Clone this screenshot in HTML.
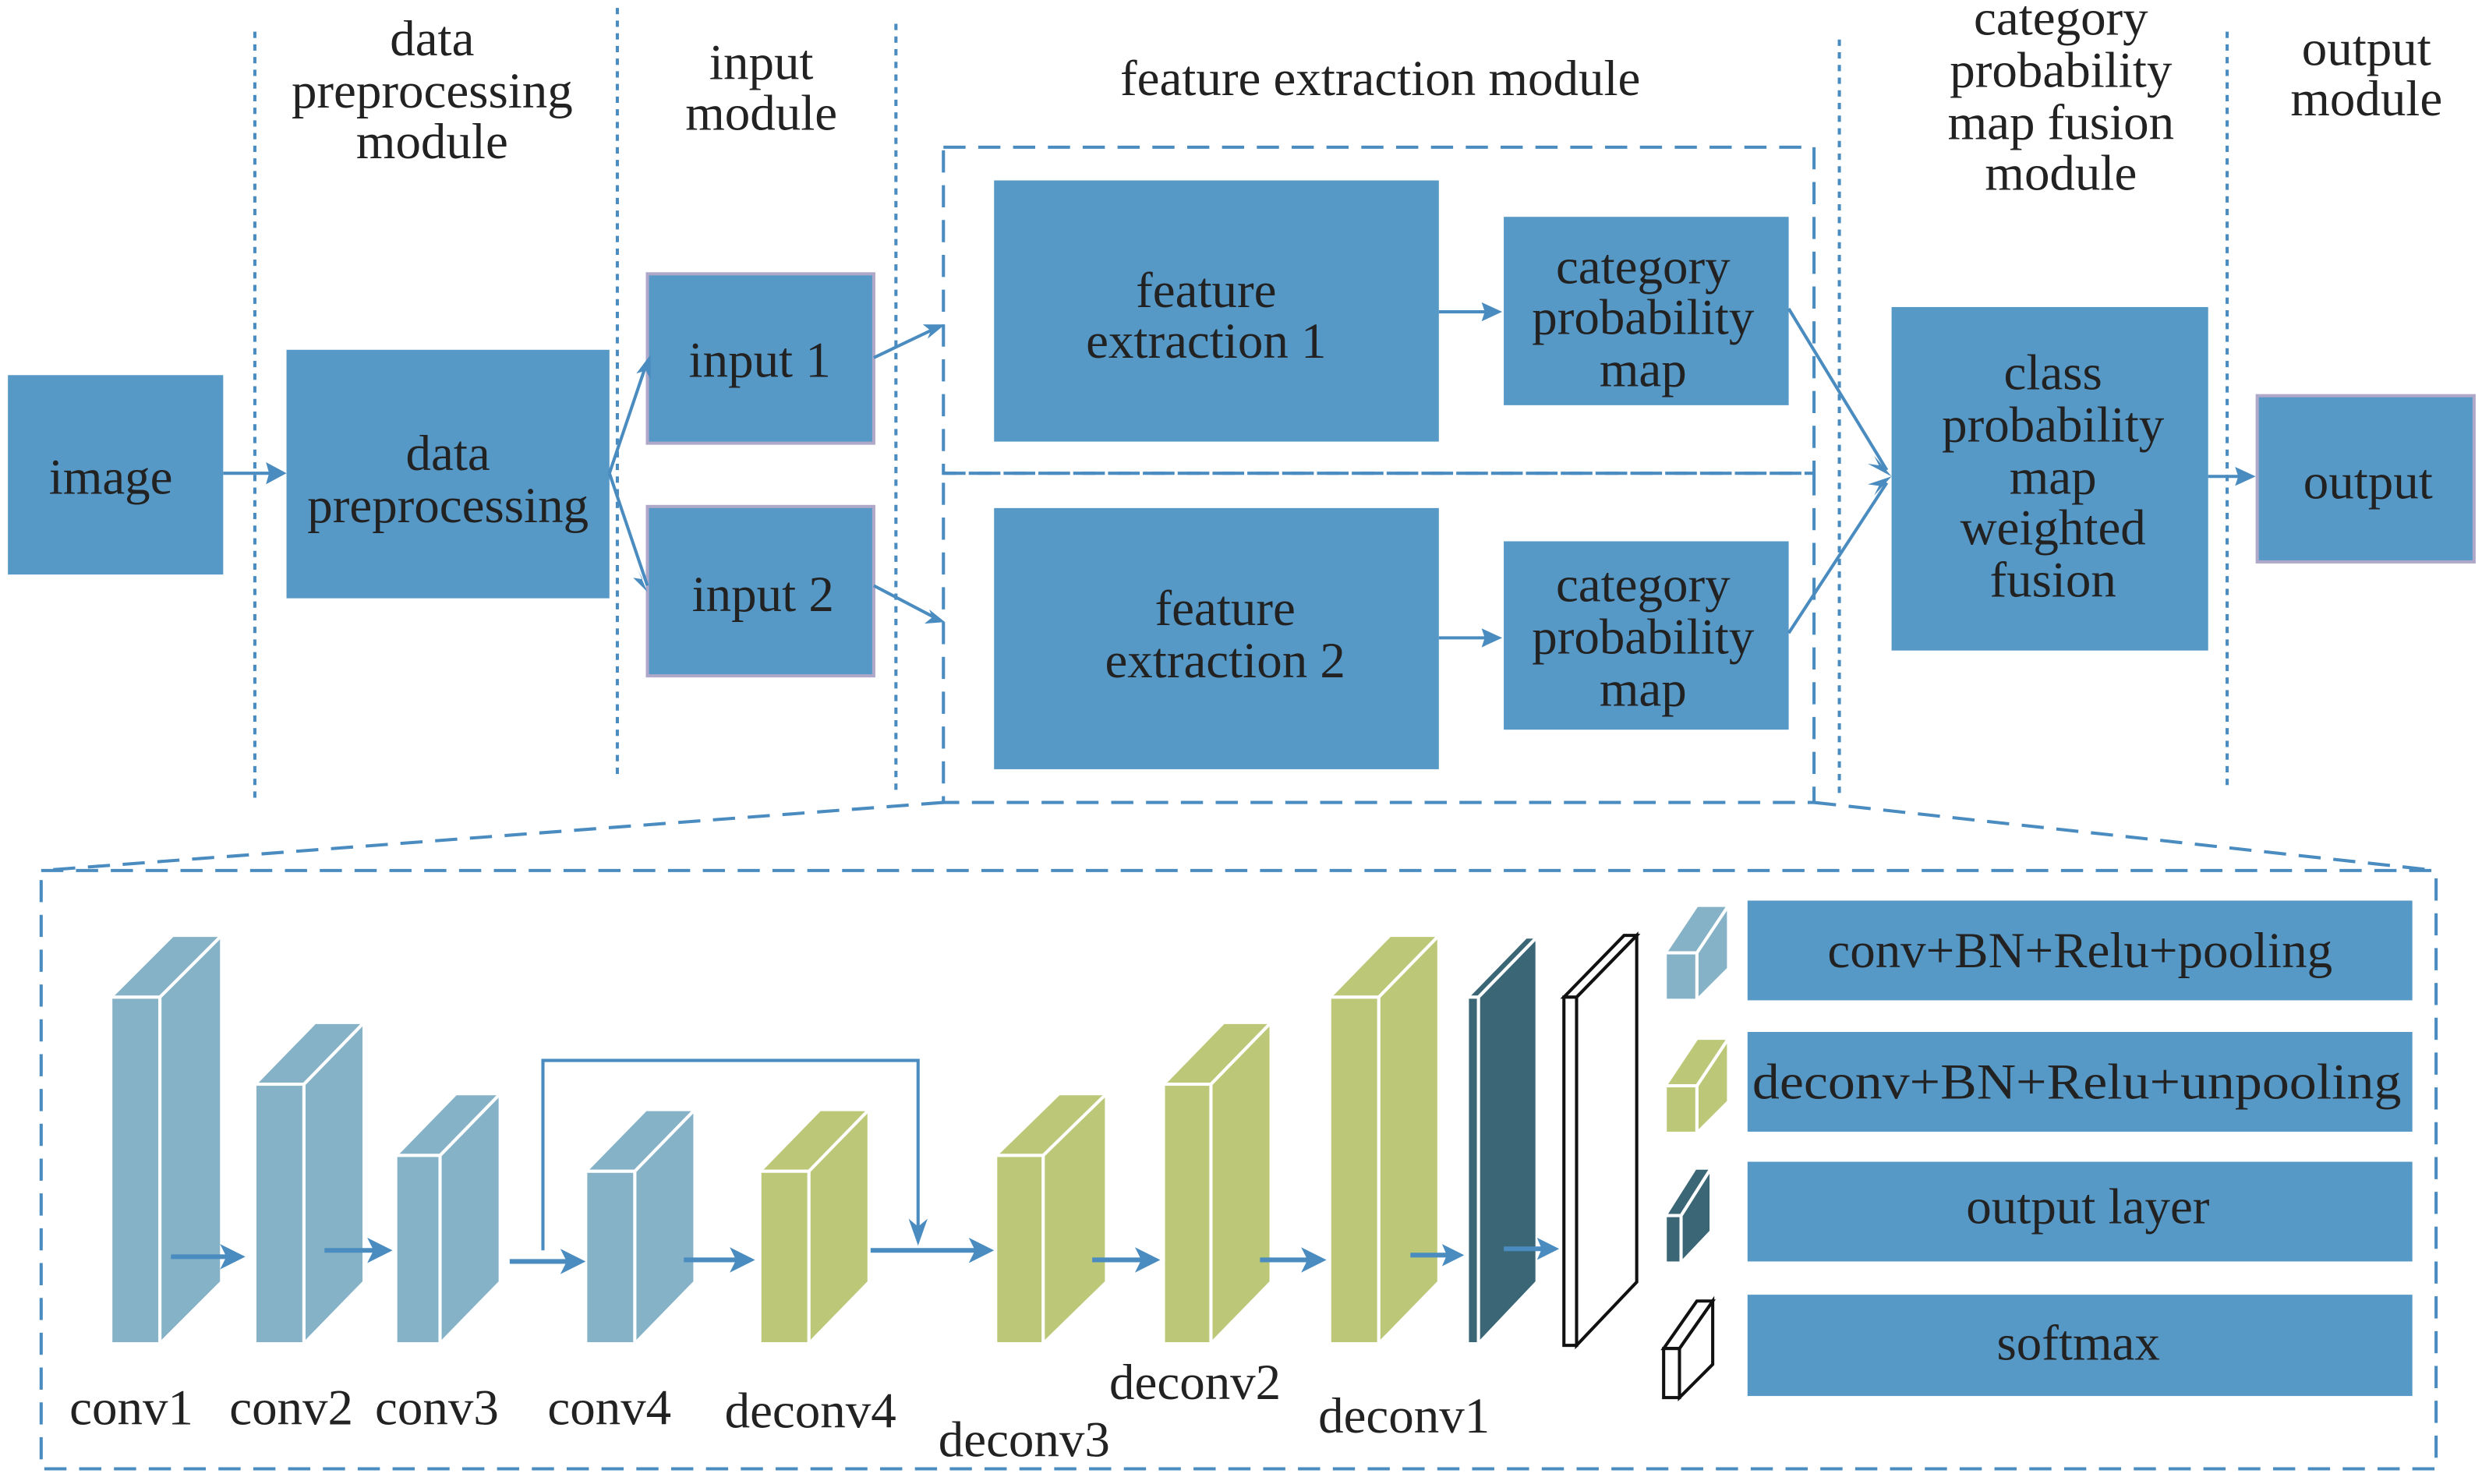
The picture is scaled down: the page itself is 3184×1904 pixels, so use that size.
<!DOCTYPE html>
<html><head><meta charset="utf-8"><style>
html,body{margin:0;padding:0;background:#fff;}
svg{display:block;}
text{font-family:"Liberation Serif",serif;fill:#222;font-size:32px;text-anchor:middle;}
</style></head><body>
<svg width="3184" height="1904" viewBox="0 0 1568 937.6" preserveAspectRatio="none" xmlns="http://www.w3.org/2000/svg">
<rect width="1568" height="937.6" fill="#fff"/>
<g stroke="#4a8cc0" stroke-width="2" stroke-dasharray="4,4">
<line x1="161" y1="20" x2="161" y2="505"/>
<line x1="390" y1="5" x2="390" y2="490"/>
<line x1="566" y1="15" x2="566" y2="500"/>
<line x1="1162" y1="25" x2="1162" y2="505"/>
<line x1="1407" y1="20" x2="1407" y2="500"/>
</g>
<g fill="none" stroke="#4a8cc0" stroke-width="2" stroke-dasharray="14,8">
<rect x="596" y="93" width="550" height="206"/>
<rect x="596" y="299" width="550" height="208"/>
<rect x="26" y="550" width="1513" height="378"/>
<line x1="596" y1="507" x2="26" y2="550"/>
<line x1="1146" y1="507" x2="1539" y2="550"/>
</g>
<text x="273" y="35">data</text>
<text x="273" y="68">preprocessing</text>
<text x="273" y="100">module</text>
<text x="481" y="50">input</text>
<text x="481" y="82">module</text>
<text x="872" y="60">feature extraction module</text>
<text x="1302" y="22">category</text>
<text x="1302" y="55">probability</text>
<text x="1302" y="88">map fusion</text>
<text x="1302" y="120">module</text>
<text x="1495" y="41">output</text>
<text x="1495" y="73">module</text>
<g fill="#5698c6">
<rect x="5" y="237" width="136" height="126"/>
<rect x="181" y="221" width="204" height="157"/>
<rect x="409" y="173" width="143" height="107" stroke="#b0a8c8" stroke-width="2"/>
<rect x="409" y="320" width="143" height="107" stroke="#b0a8c8" stroke-width="2"/>
<rect x="628" y="114" width="281" height="165"/>
<rect x="628" y="321" width="281" height="165"/>
<rect x="950" y="137" width="180" height="119"/>
<rect x="950" y="342" width="180" height="119"/>
<rect x="1195" y="194" width="200" height="217"/>
<rect x="1426" y="250" width="137" height="105" stroke="#b0a8c8" stroke-width="2"/>
<rect x="1104" y="569" width="420" height="63"/>
<rect x="1104" y="652" width="420" height="63"/>
<rect x="1104" y="734" width="420" height="63"/>
<rect x="1104" y="818" width="420" height="64"/>
</g>
<text x="70" y="312">image</text>
<text x="283" y="297">data</text>
<text x="283" y="330">preprocessing</text>
<text x="480" y="238">input 1</text>
<text x="482" y="386">input 2</text>
<text x="762" y="194">feature</text>
<text x="762" y="226">extraction 1</text>
<text x="774" y="395">feature</text>
<text x="774" y="428">extraction 2</text>
<text x="1038" y="179">category</text>
<text x="1038" y="211">probability</text>
<text x="1038" y="244">map</text>
<text x="1038" y="380">category</text>
<text x="1038" y="413">probability</text>
<text x="1038" y="446">map</text>
<text x="1297" y="246">class</text>
<text x="1297" y="279">probability</text>
<text x="1297" y="312">map</text>
<text x="1297" y="344">weighted</text>
<text x="1297" y="377">fusion</text>
<text x="1496" y="315">output</text>
<text x="1314" y="611">conv+BN+Relu+pooling</text>
<text x="1312" y="694" textLength="410" lengthAdjust="spacingAndGlyphs">deconv+BN+Relu+unpooling</text>
<text x="1319" y="773">output layer</text>
<text x="1313" y="859">softmax</text>
<g stroke="#4a8cc0" stroke-width="2" fill="none">
<line x1="141" y1="299" x2="178" y2="299"/>
<path d="M385 299 L409 228"/>
<path d="M385 299 L409 370"/>
<line x1="552" y1="226" x2="594" y2="206"/>
<line x1="552" y1="370" x2="594" y2="392"/>
<line x1="909" y1="197" x2="946" y2="197"/>
<line x1="909" y1="403" x2="946" y2="403"/>
<line x1="1130" y1="195" x2="1192" y2="297"/>
<line x1="1130" y1="400" x2="1192" y2="305"/>
<line x1="1395" y1="301" x2="1422" y2="301"/>
<polyline points="343,790 343,670 580,670 580,784"/>
</g>
<g fill="#4a8cc0">
<polygon points="181,299 168,292 170,299 168,306"/>
<polygon points="411,224 402,236 408,234 411,240"/>
<polygon points="409,374 403,360 406,366 400,365"/>
<polygon points="597,205 583,205 588,209 586,214"/>
<polygon points="597,393 587,385 589,390 584,394"/>
<polygon points="949,197 936,191 938,197 936,203"/>
<polygon points="949,403 936,397 938,403 936,409"/>
<polygon points="1195,301 1184,288 1187,294 1180,293"/>
<polygon points="1195,301 1180,306 1187,307 1184,313"/>
<polygon points="1425,301 1412,295 1414,301 1412,307"/>
<polygon points="580,787 574,770 580,775 586,770"/>
</g>
<g stroke="#fff" stroke-width="2" stroke-linejoin="miter">
<g fill="#85b2c6"><polygon points="101,630 140,591 140,810 101,849"/><polygon points="70,630 101,630 140,591 109,591"/><rect x="70" y="630" width="31" height="219"/></g>
<g fill="#85b2c6"><polygon points="192,685 230,646 230,810 192,849"/><polygon points="161,685 192,685 230,646 199,646"/><rect x="161" y="685" width="31" height="164"/></g>
<g fill="#85b2c6"><polygon points="278,730 316,691 316,810 278,849"/><polygon points="250,730 278,730 316,691 288,691"/><rect x="250" y="730" width="28" height="119"/></g>
<g fill="#85b2c6"><polygon points="401,740 439,701 439,810 401,849"/><polygon points="370,740 401,740 439,701 408,701"/><rect x="370" y="740" width="31" height="109"/></g>
<g fill="#bcc877"><polygon points="511,740 549,701 549,810 511,849"/><polygon points="480,740 511,740 549,701 518,701"/><rect x="480" y="740" width="31" height="109"/></g>
<g fill="#bcc877"><polygon points="659,730 699,691 699,810 659,849"/><polygon points="629,730 659,730 699,691 669,691"/><rect x="629" y="730" width="30" height="119"/></g>
<g fill="#bcc877"><polygon points="765,685 803,646 803,810 765,849"/><polygon points="735,685 765,685 803,646 773,646"/><rect x="735" y="685" width="30" height="164"/></g>
<g fill="#bcc877"><polygon points="871,630 909,591 909,810 871,849"/><polygon points="840,630 871,630 909,591 878,591"/><rect x="840" y="630" width="31" height="219"/></g>
<g fill="#3a6675"><polygon points="934,630 971,592 971,810 934,849"/><polygon points="927,630 934,630 971,592 964,592"/><rect x="927" y="630" width="7" height="219"/></g>
<g fill="#85b2c6"><polygon points="1072,602 1092,572 1092,612 1072,632"/><polygon points="1052,602 1072,602 1092,572 1072,572"/><rect x="1052" y="602" width="20" height="30"/></g>
<g fill="#bcc877"><polygon points="1072,686 1092,656 1092,696 1072,716"/><polygon points="1052,686 1072,686 1092,656 1072,656"/><rect x="1052" y="686" width="20" height="30"/></g>
<g fill="#3a6675"><polygon points="1062,768 1081,738 1081,778 1062,798"/><polygon points="1052,768 1062,768 1081,738 1071,738"/><rect x="1052" y="768" width="10" height="30"/></g>
</g>
<g fill="#fff" stroke="#111" stroke-width="2">
<polygon points="996,630 1034,591 1034,810 996,850"/><polygon points="988,630 996,630 1034,591 1026,591"/><rect x="988" y="630" width="8" height="220"/>
<polygon points="1061,852 1082,822 1082,862 1061,883"/><polygon points="1051,852 1061,852 1082,822 1072,822"/><rect x="1051" y="852" width="10" height="31"/>
</g>
<g stroke="#4a8cc0" stroke-width="3">
<line x1="108" y1="794" x2="145" y2="794"/>
<line x1="205" y1="790" x2="238" y2="790"/>
<line x1="322" y1="797" x2="360" y2="797"/>
<line x1="432" y1="796" x2="467" y2="796"/>
<line x1="550" y1="790" x2="618" y2="790"/>
<line x1="690" y1="796" x2="723" y2="796"/>
<line x1="796" y1="796" x2="828" y2="796"/>
<line x1="891" y1="793" x2="915" y2="793"/>
<line x1="950" y1="789" x2="975" y2="789"/>
</g>
<g fill="#4a8cc0">
<polygon points="155,794 139,786 143,794 139,802"/>
<polygon points="248,790 232,782 236,790 232,798"/>
<polygon points="370,797 354,789 358,797 354,805"/>
<polygon points="477,796 461,788 465,796 461,804"/>
<polygon points="628,790 612,782 616,790 612,798"/>
<polygon points="733,796 717,788 721,796 717,804"/>
<polygon points="838,796 822,788 826,796 822,804"/>
<polygon points="925,793 911,786 914,793 911,800"/>
<polygon points="985,789 971,782 974,789 971,796"/>
</g>
<text x="83" y="900">conv1</text>
<text x="184" y="900">conv2</text>
<text x="276" y="900">conv3</text>
<text x="385" y="900">conv4</text>
<text x="512" y="902">deconv4</text>
<text x="647" y="920">deconv3</text>
<text x="755" y="884">deconv2</text>
<text x="887" y="905">deconv1</text>
</svg>
</body></html>
